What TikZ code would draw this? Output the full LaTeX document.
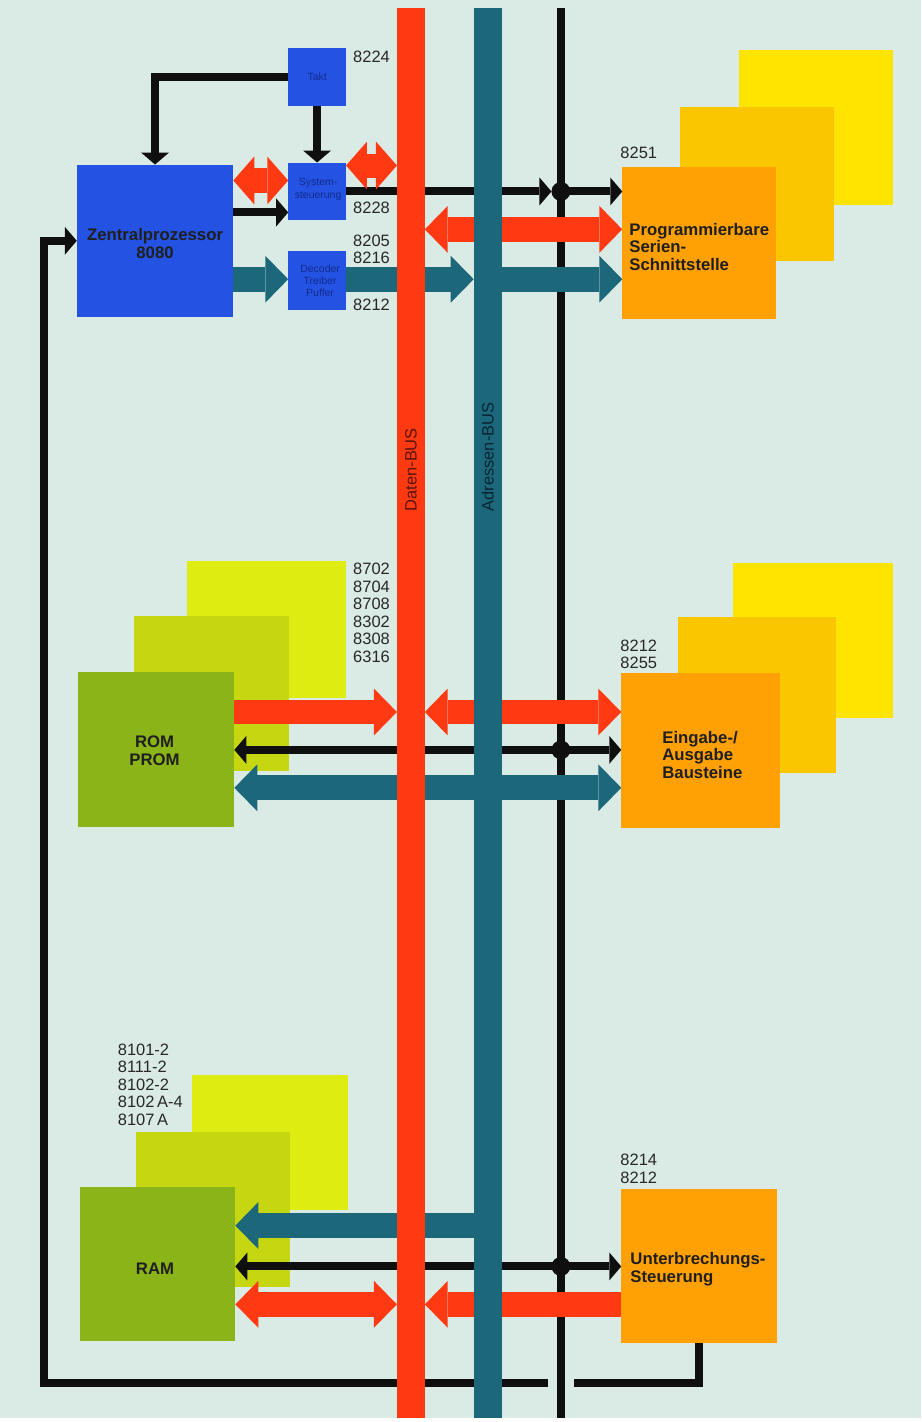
\documentclass[tikz,border=0pt]{standalone}
\usepackage{fontspec}
\setmainfont{Liberation Sans}
\usetikzlibrary{arrows.meta,calc}
\pgfdeclarelayer{buslayer}
\pgfsetlayers{main,buslayer}
\definecolor{bgc}{RGB}{218,234,228}
\definecolor{bluec}{RGB}{36,82,226}
\definecolor{navyc}{RGB}{18,44,140}
\definecolor{redc}{RGB}{255,58,18}
\definecolor{tealc}{RGB}{28,104,122}
\definecolor{orA}{RGB}{255,160,4}
\definecolor{orB}{RGB}{250,198,0}
\definecolor{orC}{RGB}{255,228,0}
\definecolor{grA}{RGB}{138,180,24}
\definecolor{grB}{RGB}{198,214,16}
\definecolor{grC}{RGB}{222,236,18}
\definecolor{numc}{RGB}{40,40,40}
\definecolor{blkc}{RGB}{15,15,15}
\begin{document}
\begin{tikzpicture}[x=1pt,y=-1pt,
  box/.style={fill=#1, inner sep=0pt, outer sep=0pt, anchor=north west},
  bln/.style={draw=blkc, line width=8pt, line cap=butt, line join=miter},
  barr/.style={bln, -{Triangle[width=28pt,length=12pt,line width=0pt]}},
  fatR/.style={draw=#1, line width=25pt, line cap=butt, -{Triangle[width=47pt,length=23pt,line width=0pt]}},
  fatRR/.style={draw=#1, line width=25pt, line cap=butt, {Triangle[width=47pt,length=23pt,line width=0pt]}-{Triangle[width=47pt,length=23pt,line width=0pt]}},
  fatS/.style={draw=redc, line width=26pt, line cap=butt, {Triangle[width=48pt,length=21pt,line width=0pt]}-{Triangle[width=48pt,length=21pt,line width=0pt]}},
  dot/.style={circle, fill=blkc, inner sep=0pt, minimum size=19pt},
  num/.style={font=\fontsize{16.5}{17.6}\selectfont, text=numc, inner sep=0pt, align=left, anchor=west},
  lbl/.style={font=\fontsize{16.8}{17.8}\selectfont\bfseries, text=black!88, inner sep=0pt},
  small/.style={font=\fontsize{10.5}{12.4}\selectfont, text=navyc, inner sep=0pt, align=center},
  buslbl/.style={font=\fontsize{16.5}{17}\selectfont, inner sep=0pt, rotate=90, anchor=west}
]
\fill[bgc] (0,0) rectangle (924,1422);

% buses on top layer
\begin{pgfonlayer}{buslayer}
\node[fill=tealc, inner sep=0pt, outer sep=0pt, minimum width=28pt, minimum height=1414pt, anchor=north] (abus) at (489,8) {};
\node[fill=redc, inner sep=0pt, outer sep=0pt, minimum width=28pt, minimum height=1414pt, anchor=north] (dbus) at (412,8) {};
\node[buslbl, text={rgb,255:red,90;green,20;blue,10}] (dlbl) at (412,513) {Daten-BUS};
\node[buslbl, text={rgb,255:red,8;green,36;blue,52}] (albl) at (489,513) {Adressen-BUS};
\end{pgfonlayer}

% control line
\coordinate (ctop) at (562.5,8);
\coordinate (cbot) at (562.5,1422);
\draw[bln] (ctop) -- (cbot);

% boxes
\node[box=bluec, minimum width=58pt, minimum height=58pt] (takt) at (289,48) {};
\node[box=bluec, minimum width=58pt, minimum height=58pt] (sys) at (289,163) {};
\node[box=bluec, minimum width=58pt, minimum height=59pt] (dec) at (289,252) {};
\node[box=bluec, minimum width=157pt, minimum height=153pt] (cpu) at (77,165) {};

\node[box=orC, minimum width=155pt, minimum height=156pt] (serC) at (741,50) {};
\node[box=orB, minimum width=154pt, minimum height=155pt] (serB) at (682,107) {};
\node[box=orA, minimum width=154pt, minimum height=153pt] (ser) at (624,167) {};

\node[box=grC, minimum width=159pt, minimum height=137pt] (romC) at (188,563) {};
\node[box=grB, minimum width=156pt, minimum height=155pt] (romB) at (134,618) {};
\node[box=grA, minimum width=157pt, minimum height=155pt] (rom) at (78,674) {};

\node[box=orC, minimum width=160pt, minimum height=155pt] (ioC) at (735,565) {};
\node[box=orB, minimum width=158pt, minimum height=156pt] (ioB) at (680,619) {};
\node[box=orA, minimum width=159pt, minimum height=155pt] (io) at (623,675) {};

\node[box=grC, minimum width=156pt, minimum height=135pt] (ramC) at (193,1078) {};
\node[box=grB, minimum width=155pt, minimum height=156pt] (ramB) at (136,1135) {};
\node[box=grA, minimum width=156pt, minimum height=155pt] (ram) at (80,1190) {};

\node[box=orA, minimum width=156pt, minimum height=155pt] (int) at (623,1192) {};

% texts in boxes
\node[small] (taktT) at (takt.center) {Takt};
\node[small] (sysT) at ($(sys.center)+(1,-2)$) {System-\\steuerung};
\node[small] (decT) at ($(dec.center)+(3,0)$) {Decoder\\Treiber\\Puffer};
\node[lbl, align=center] (cpuT) at (155.5,244) {Zentralprozessor\\8080};
\node[lbl, align=left, anchor=west] (serT) at (631,247.5) {Programmierbare\\Serien-\\Schnittstelle};
\node[lbl, align=center] (romT) at (155,752.5) {ROM\\PROM};
\node[lbl, align=left, anchor=west] (ioT) at (664,757) {Eingabe-/\\Ausgabe\\Bausteine};
\node[lbl] (ramT) at (155.5,1272) {RAM};
\node[lbl, align=left, anchor=west] (intT) at (632,1273) {Unterbrechungs-\\Steuerung};

% part numbers
\node[num] (n1) at (354,56.5) {8224};
\node[num] (n2) at (354,208) {8228};
\node[num] (n3) at (354,250) {8205\\8216};
\node[num] (n4) at (354,305.5) {8212};
\node[num] (n5) at (622,153.5) {8251};
\node[num] (n6) at (354,614.5) {8702\\8704\\8708\\8302\\8308\\6316};
\node[num] (n7) at (622,656) {8212\\8255};
\node[num] (n8) at (118,1087.5) {8101-2\\8111-2\\8102-2\\8102\,A-4\\8107\,A};
\node[num] (n9) at (622,1172) {8214\\8212};

% row coordinates
\coordinate (yA) at (0,181);
\coordinate (yB) at (0,166);
\coordinate (yD) at (0,213);
\coordinate (yE) at (0,230);
\coordinate (yF) at (0,280);
\coordinate (yG) at (0,714);
\coordinate (yI) at (0,790);
\coordinate (yJ) at (0,1229);
\coordinate (yL) at (0,1308);

% junction dots positions
\coordinate (p1) at (562.5,192);
\coordinate (p2) at (562.5,752);
\coordinate (p3) at (562.5,1270);

% black connectors
\draw[barr] (takt.west) -| (cpu.north);
\draw[barr] (takt.south) -- (sys.north);
\draw[barr] (cpu.east |- yD) -- (sys.west |- yD);
\draw[barr] (sys.east |- p1) -- ($(p1)+(-9.5,0)$);
\draw[barr] (p1) -- (ser.west |- p1);
\draw[barr] (p2) -- (rom.east |- p2);
\draw[barr] (p2) -- (io.west |- p2);
\draw[barr] (p3) -- (ram.east |- p3);
\draw[barr] (p3) -- (int.west |- p3);
\node[dot] (d1) at (p1) {};
\node[dot] (d2) at (p2) {};
\node[dot] (d3) at (p3) {};

% feedback loop
\coordinate (fbA) at (576,1386.5);
\coordinate (fbB) at (550,1386.5);
\coordinate (fbL) at (44,1386.5);
\draw[bln] (int.south) |- (fbA);
\draw[barr] (fbB) -- (fbL) |- (cpu.west);

% red connectors
\draw[fatS] (cpu.east |- yA) -- (sys.west |- yA);
\draw[fatS, line width=24pt] (sys.east |- yB) -- (dbus.west |- yB);
\draw[fatRR=redc] (dbus.east |- yE) -- (ser.west |- yE);
\draw[fatR=redc] (rom.east |- yG) -- (dbus.west |- yG);
\draw[fatRR=redc] (dbus.east |- yG) -- (io.west |- yG);
\draw[fatRR=redc] (ram.east |- yL) -- (dbus.west |- yL);
\draw[fatR=redc] (int.west |- yL) -- (dbus.east |- yL);

% teal connectors
\draw[fatR=tealc] (cpu.east |- yF) -- (dec.west |- yF);
\draw[fatR=tealc] (dec.east |- yF) -- (abus.west |- yF);
\draw[fatR=tealc] (abus.east |- yF) -- (ser.west |- yF);
\draw[fatR=tealc] (abus.west |- yI) -- (rom.east |- yI);
\draw[fatR=tealc] (abus.east |- yI) -- (io.west |- yI);
\draw[fatR=tealc] (abus.west |- yJ) -- (ram.east |- yJ);
\end{tikzpicture}
\end{document}
